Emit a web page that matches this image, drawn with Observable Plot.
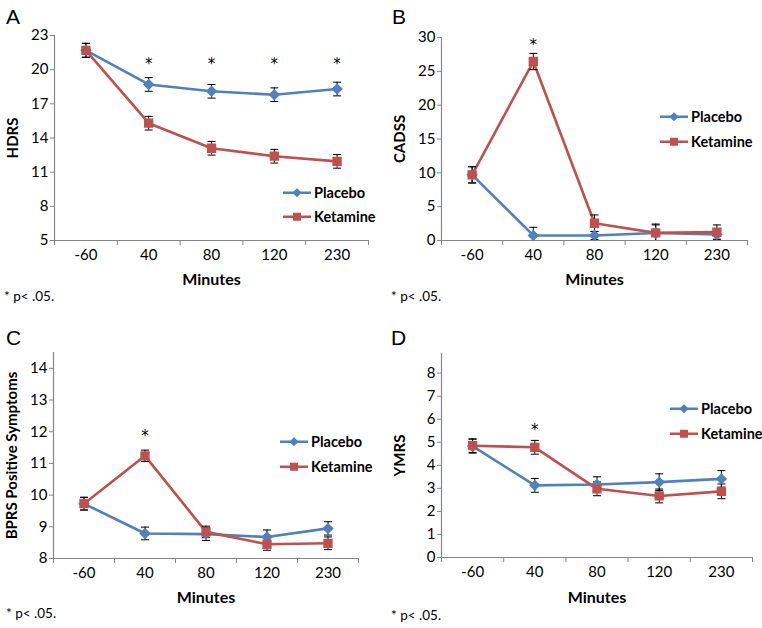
<!DOCTYPE html>
<html>
<head>
<meta charset="utf-8">
<script src="https://cdn.jsdelivr.net/npm/d3@7"></script>
<script src="https://cdn.jsdelivr.net/npm/@observablehq/plot@0.6"></script>
<style>
  body { margin: 0; background: #fff; }
  #root { position: relative; width: 762px; height: 628px; font-family: Lato, "Open Sans", sans-serif; color: #000; }
  .panel { position: absolute; }
  .letter { position: absolute; font-family: "Liberation Sans", Arial, sans-serif; font-size: 21px; line-height: 1; }
  .foot { position: absolute; font-size: 13.5px; line-height: 1; transform: translateY(-50%); white-space: nowrap; }
  .leg { position: absolute; display: flex; align-items: center; font-weight: bold; font-size: 14.5px; line-height: 1; transform: translateY(-50%); white-space: nowrap; }
  .leg svg { margin-right: 3px; }
</style>
</head>
<body>
<div id="root"></div>
<script>
// ---- data ----
const minutes = ["-60", "40", "80", "120", "230"];
const series = ["Placebo", "Ketamine"];
const xLabel = "Minutes";
const footnote = "* p< .05.";

// A: HDRS
const hdrsPlacebo = [21.7, 18.7, 18.1, 17.8, 18.3];
const hdrsPlaceboErr = [0.62, 0.6, 0.6, 0.6, 0.6];
const hdrsKetamine = [21.7, 15.3, 13.1, 12.4, 11.95];
const hdrsKetamineErr = [0.6, 0.6, 0.6, 0.6, 0.6];
const hdrsTicks = [5, 8, 11, 14, 17, 20, 23];
const hdrsSig = ["40", "80", "120", "230"];
const hdrsStar = 20.8;

// B: CADSS
const cadssPlacebo = [9.7, 0.75, 0.75, 1.1, 0.9];
const cadssPlaceboErr = [1.2, 1.2, 0.6, 1.2, 0.8];
const cadssKetamine = [9.7, 26.45, 2.55, 1.13, 1.25];
const cadssKetamineErr = [1.2, 1.2, 1.23, 1.3, 1.05];
const cadssTicks = [0, 5, 10, 15, 20, 25, 30];
const cadssSig = ["40"];
const cadssStar = 29.5;

// C: BPRS Positive Symptoms
const bprsPlacebo = [9.73, 8.79, 8.77, 8.68, 8.95];
const bprsPlaceboErr = [0.2, 0.2, 0.2, 0.22, 0.21];
const bprsKetamine = [9.73, 11.24, 8.84, 8.45, 8.48];
const bprsKetamineErr = [0.2, 0.18, 0.18, 0.19, 0.2];
const bprsTicks = [8, 9, 10, 11, 12, 13, 14];
const bprsSig = ["40"];
const bprsStar = 12.0;

// D: YMRS
const ymrsPlacebo = [4.83, 3.13, 3.17, 3.27, 3.41];
const ymrsPlaceboErr = [0.3, 0.3, 0.33, 0.36, 0.36];
const ymrsKetamine = [4.85, 4.78, 2.98, 2.67, 2.87];
const ymrsKetamineErr = [0.3, 0.3, 0.3, 0.3, 0.32];
const ymrsTicks = [0, 1, 2, 3, 4, 5, 6, 7, 8];
const ymrsSig = ["40"];
const ymrsStar = 5.68;

// ---- style ----
const axisColor = "#868686";
const colors = ["#4F81BD", "#C0504D"];
const FONT = "Lato, 'Open Sans', sans-serif";

const capSymbol = {
  draw(context) {
    context.moveTo(-4, 0);
    context.lineTo(4, 0);
  }
};

const panels = [
  {letter: "A", left: 0, top: 0, height: 310, ylabel: "HDRS", values: [hdrsPlacebo, hdrsKetamine], errors: [hdrsPlaceboErr, hdrsKetamineErr],
   ticks: hdrsTicks, domain: [5, 23], sig: hdrsSig, starY: hdrsStar,
   m: [35, 13, 70, 54], xdy: 39, letterPos: [6, 6], footY: 297, footX: 4, leg: [283, 193, 217]},
  {letter: "B", left: 380, top: 0, height: 310, ylabel: "CADSS", values: [cadssPlacebo, cadssKetamine], errors: [cadssPlaceboErr, cadssKetamineErr],
   ticks: cadssTicks, domain: [0, 30], sig: cadssSig, starY: cadssStar,
   m: [37, 14, 70, 61], xdy: 39, letterPos: [12, 6], footY: 297, footX: 11, leg: [280, 117, 142]},
  {letter: "C", left: 0, top: 310, height: 318, ylabel: "BPRS Positive Symptoms", values: [bprsPlacebo, bprsKetamine], errors: [bprsPlaceboErr, bprsKetamineErr],
   ticks: bprsTicks, domain: [8, 14.5], sig: bprsSig, starY: bprsStar,
   m: [42, 23, 70, 53], xdy: 39, letterPos: [6, 17], footY: 304, footX: 6, leg: [280, 132, 157]},
  {letter: "D", left: 380, top: 310, height: 318, ylabel: "YMRS", values: [ymrsPlacebo, ymrsKetamine], errors: [ymrsPlaceboErr, ymrsKetamineErr],
   ticks: ymrsTicks, domain: [0, 8.85], sig: ymrsSig, starY: ymrsStar,
   m: [43, 9, 71, 61], xdy: 40, letterPos: [11, 17], footY: 306, footX: 11, leg: [290, 99, 124]}
];

function makePlot(cfg) {
  const rows = [];
  cfg.values.forEach((vals, si) => vals.forEach((v, i) => rows.push({series: series[si], minute: minutes[i], value: v, err: cfg.errors[si][i]})));
  const xi = d => minutes.indexOf(d.minute);
  const caps = rows.flatMap(d => [{...d, v: d.value - d.err}, {...d, v: d.value + d.err}]);
  const bounds = [-0.5, ...minutes.map((_, i) => i + 0.5)];
  const [mt, mr, mb, ml] = cfg.m;
  return Plot.plot({
    width: 381, height: cfg.height,
    marginTop: mt, marginRight: mr, marginBottom: mb, marginLeft: ml,
    style: {fontFamily: FONT, fontSize: "15px", color: "#000", background: "transparent", overflow: "visible"},
    x: {type: "linear", domain: [-0.5, minutes.length - 0.5]},
    y: {domain: cfg.domain},
    color: {domain: series, range: colors},
    marks: [
      Plot.axisX({ticks: bounds, tickSize: 5, tickFormat: () => "", stroke: axisColor, label: null}),
      Plot.axisX({ticks: minutes.map((_, i) => i), tickFormat: i => minutes[i], tickSize: 0, tickPadding: 9, label: null, fontSize: 15}),
      Plot.axisY({ticks: cfg.ticks, tickFormat: d => String(d), tickSize: 4, tickPadding: 2, stroke: axisColor, label: null, fontSize: 15}),
      Plot.ruleX([-0.5], {stroke: axisColor, strokeWidth: 1.2}),
      Plot.ruleY([cfg.domain[0]], {stroke: axisColor, strokeWidth: 1.2}),
      Plot.line(rows, {x: xi, y: "value", z: "series", stroke: "series", strokeWidth: 2.6}),
      Plot.ruleX(rows, {x: xi, y1: d => d.value - d.err, y2: d => d.value + d.err, stroke: "#000", strokeWidth: 1, clip: true}),
      Plot.dot(caps, {x: xi, y: "v", symbol: capSymbol, r: 4, stroke: "#000", strokeWidth: 1, fill: "none", clip: true}),
      Plot.dot(rows.filter(d => d.series === series[0]), {x: xi, y: "value", symbol: "diamond2", r: 4.2, fill: "series", stroke: "series"}),
      Plot.dot(rows.filter(d => d.series === series[1]), {x: xi, y: "value", symbol: "square", r: 4.4, fill: "series", stroke: "series"}),
      Plot.text(cfg.sig, {x: m => minutes.indexOf(m), y: () => cfg.starY, text: () => "*", fontFamily: "DejaVu Sans", fontSize: 15, dy: 4, fill: "#000"}),
      Plot.text([xLabel], {frameAnchor: "bottom", text: d => d, textAnchor: "middle", lineAnchor: "middle", dy: cfg.xdy, fontWeight: "bold", fontSize: 16}),
      Plot.text([cfg.ylabel], {frameAnchor: "left", text: d => d, textAnchor: "middle", lineAnchor: "middle", rotate: -90, dx: -41, fontWeight: "bold", fontSize: 15})
    ]
  });
}

function legendItem(name, color, symbol) {
  const marker = symbol === "diamond"
    ? `<path d="M14,-4.6L18.6,0L14,4.6L9.4,0Z" fill="${color}"/>`
    : `<rect x="10" y="-4" width="8" height="8" fill="${color}"/>`;
  return `<svg width="28" height="12" viewBox="0 -6 28 12"><line x1="0" x2="28" y1="0" y2="0" stroke="${color}" stroke-width="2.6"/>${marker}</svg><span>${name}</span>`;
}

const root = document.getElementById("root");
panels.forEach(cfg => {
  const div = document.createElement("div");
  div.className = "panel";
  div.style.left = cfg.left + "px";
  div.style.top = cfg.top + "px";
  div.style.width = "381px";
  div.style.height = cfg.height + "px";
  div.appendChild(makePlot(cfg));

  const letter = document.createElement("div");
  letter.className = "letter";
  letter.textContent = cfg.letter;
  letter.style.left = cfg.letterPos[0] + "px";
  letter.style.top = cfg.letterPos[1] + "px";
  div.appendChild(letter);

  const foot = document.createElement("div");
  foot.className = "foot";
  foot.textContent = footnote;
  foot.style.left = cfg.footX + "px";
  foot.style.top = cfg.footY + "px";
  div.appendChild(foot);

  series.forEach((s, si) => {
    const leg = document.createElement("div");
    leg.className = "leg";
    leg.style.left = cfg.leg[0] + "px";
    leg.style.top = cfg.leg[1 + si] + "px";
    leg.innerHTML = legendItem(s, colors[si], si === 0 ? "diamond" : "square");
    div.appendChild(leg);
  });
  root.appendChild(div);
});
</script>
</body>
</html>
